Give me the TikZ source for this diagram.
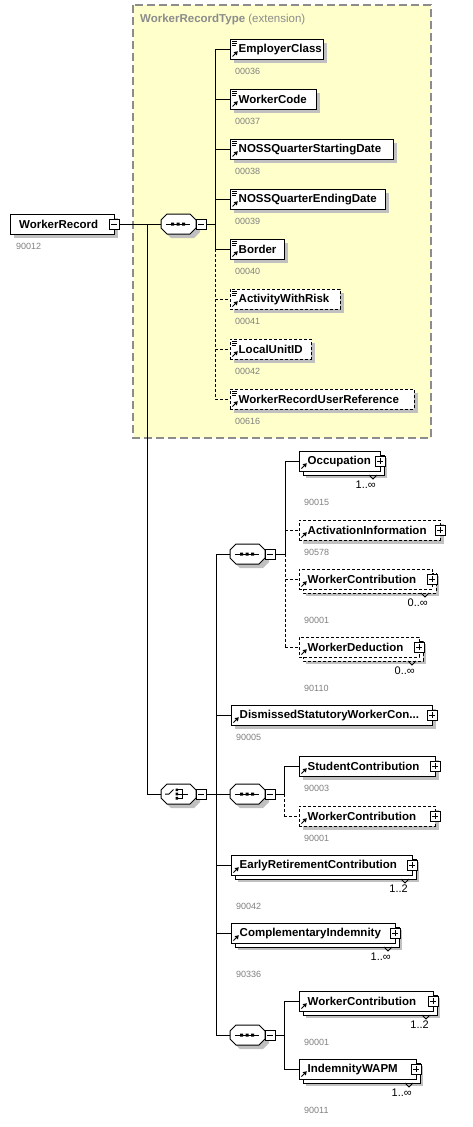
\documentclass[tikz,border=0pt]{standalone}
\usepackage{fontspec}
\setmainfont{Liberation Sans}
\definecolor{yel}{RGB}{255,255,204}
\definecolor{ygray}{RGB}{140,140,140}
\definecolor{shd}{RGB}{192,192,192}
\definecolor{codec}{RGB}{128,128,128}
\tikzset{
 ebox/.style={draw=black, fill=white, line width=1pt, inner sep=0pt, outer sep=0pt, minimum height=20pt, anchor=north west},
 opt/.style={dash pattern=on 3pt off 2pt},
 elab/.style={font=\bfseries\fontsize{11.5}{13}\selectfont, inner sep=0pt, anchor=west},
 codel/.style={font=\fontsize{9}{10}\selectfont, text=codec, inner sep=0pt, anchor=west},
 multl/.style={font=\fontsize{11}{12}\selectfont, inner sep=0pt, anchor=east},
 conn/.style={line width=1pt},
 oconn/.style={line width=1pt, dash pattern=on 3pt off 2pt},
 btn/.style={draw=black, fill=white, line width=0.8pt, minimum size=10pt, inner sep=0pt, outer sep=0pt},
 hub/.style={minimum width=35pt, minimum height=20pt, inner sep=0pt, outer sep=0pt, anchor=north west},
}
\newcommand{\xplusbtn}[3]{%
  \node[btn] (#1) at (#2,#3) {};
  \draw[line width=0.8pt] ([xshift=2pt]#1.west) -- ([xshift=-2pt]#1.east) ([yshift=-2pt]#1.north) -- ([yshift=2pt]#1.south);
}
\newcommand{\xminusbtn}[3]{%
  \node[btn] (#1) at (#2,#3) {};
  \draw[line width=0.8pt] ([xshift=2pt]#1.west) -- ([xshift=-2pt]#1.east);
}
\newcommand{\xrefarrow}[2]{%
  \draw[line width=1pt] (#1+2.5,#2+17.5) -- (#1+5.5,#2+14.5);
  \fill (#1+7.8,#2+12.2) -- (#1+3.6,#2+13.2) -- (#1+6.8,#2+16.4) -- cycle;
}
\newcommand{\xsimpleicon}[2]{%
  \draw[line width=0.8pt] (#1+2,#2+2.5) -- ++(5,0) (#1+2,#2+4.5) -- ++(5,0) (#1+2,#2+6.5) -- ++(4,0);
}
% single element: style, name, x, y, w, label, code
\newcommand{\xsel}[7]{%
  \fill[shd] (#3+4,#4+4) rectangle ++(#5,20);
  \node[ebox,#1,minimum width=#5pt] (#2) at (#3,#4) {};
  \node[elab] (#2l) at (#3+8.5,#4+10.5) {#6};
  \node[codel] (#2c) at (#3+5,#4+32) {#7};
  \xrefarrow{#3}{#4}
}
% multiple element: style, name, x, y, w, label, code, mult
\newcommand{\xmel}[8]{%
  \fill[shd] (#3+7,#4+7) rectangle ++(#5,20);
  \draw[line width=1pt, fill=white, #1] (#3+4,#4+4) rectangle ++(#5,20);
  \draw[line width=0.8pt] (#3+#5-11,#4+24) -- (#3+#5-7,#4+28) -- (#3+#5-3,#4+24);
  \node[ebox,#1,minimum width=#5pt] (#2) at (#3,#4) {};
  \node[elab] (#2l) at (#3+8.5,#4+10.5) {#6};
  \node[multl] (#2m) at (#3+#5-4,#4+34) {#8};
  \node[codel] (#2c) at (#3+5,#4+51) {#7};
  \xrefarrow{#3}{#4}
}
\newcommand{\xocta}[2]{(#1,#2+6) -- (#1+6,#2) -- (#1+29,#2) -- (#1+35,#2+6) -- (#1+35,#2+14) -- (#1+29,#2+20) -- (#1+6,#2+20) -- (#1,#2+14) -- cycle}
\newcommand{\xhubbase}[3]{%
  \fill[shd] \xocta{#2+4}{#3+4};
  \draw[line width=1pt, fill=white] \xocta{#2}{#3};
  \node[hub] (#1) at (#2,#3) {};
  \xminusbtn{#1b}{#2+40}{#3+10}
}
\newcommand{\xseqhub}[3]{%
  \xhubbase{#1}{#2}{#3}
  \draw[line width=1pt] (#2+5,#3+10) -- (#2+29,#3+10);
  \fill (#2+10,#3+8.5) rectangle ++(3,3) (#2+15.5,#3+8.5) rectangle ++(3,3) (#2+21,#3+8.5) rectangle ++(3,3);
}
\newcommand{\xchohub}[3]{%
  \xhubbase{#1}{#2}{#3}
  \draw[line width=1pt] (#2+4,#3+10) -- (#2+8,#3+10) -- (#2+12.5,#3+5.5);
  \fill (#2+14.5,#3+4.5) rectangle ++(2.6,2.6) (#2+14.5,#3+8.7) rectangle ++(2.6,2.6) (#2+14.5,#3+12.9) rectangle ++(2.6,2.6);
  \draw[line width=0.9pt] (#2+17,#3+5.8) -- (#2+21,#3+5.8) -- (#2+21,#3+14.2) -- (#2+17,#3+14.2) (#2+17,#3+10) -- (#2+27,#3+10);
}
\begin{document}
\begin{tikzpicture}[x=1pt,y=-1pt]
\useasboundingbox (0,0) rectangle (473,1127);
\fill[white] (0,0) rectangle (473,1127);
% extension background
\draw[fill=yel, draw=ygray, line width=1.2pt, dash pattern=on 8pt off 4pt] (133,5) rectangle (431,438);
\node[anchor=west, inner sep=0pt, text=ygray, font=\fontsize{11.5}{13}\selectfont] (title) at (140,20) {\textbf{WorkerRecordType} (extension)};
% root
\fill[shd] (14,218) rectangle ++(104,20);
\node[ebox,minimum width=104pt] (root) at (10,214) {};
\node[elab] (rootl) at (19,224.5) {WorkerRecord};
\node[codel] (rootc) at (16,246) {90012};
\xminusbtn{rootb}{114}{224}
% hubs
\xseqhub{s1}{161}{214}
\xchohub{ch}{161}{784}
\xseqhub{s2}{230}{544}
\xseqhub{s3}{230}{784}
\xseqhub{s4}{230}{1025}
% extension elements
\xsel{}{ec}{230}{39}{93}{EmployerClass}{00036}\xsimpleicon{230}{39}
\xsel{}{wc}{230}{89}{86}{WorkerCode}{00037}\xsimpleicon{230}{89}
\xsel{}{ns}{230}{139}{163}{NOSSQuarterStartingDate}{00038}\xsimpleicon{230}{139}
\xsel{}{ne}{230}{189}{155}{NOSSQuarterEndingDate}{00039}\xsimpleicon{230}{189}
\xsel{}{bo}{230}{239}{54}{Border}{00040}\xsimpleicon{230}{239}
\xsel{opt}{aw}{230}{289}{110}{ActivityWithRisk}{00041}\xsimpleicon{230}{289}
\xsel{opt}{lu}{230}{339}{81}{LocalUnitID}{00042}\xsimpleicon{230}{339}
\xsel{opt}{wr}{230}{389}{184}{WorkerRecordUserReference}{00616}\xsimpleicon{230}{389}
% lower elements
\xmel{}{oc}{299}{451}{81}{Occupation}{90015}{1..∞}\xplusbtn{ocb}{380}{461}
\xsel{opt}{ai}{299}{520}{141}{ActivationInformation}{90578}\xplusbtn{aib}{440}{530}
\xmel{opt}{wca}{299}{569}{133}{WorkerContribution}{90001}{0..∞}\xplusbtn{wcab}{432}{579}
\xmel{opt}{wd}{299}{637}{120}{WorkerDeduction}{90110}{0..∞}\xplusbtn{wdb}{419}{647}
\xsel{}{ds}{231}{705}{201}{DismissedStatutoryWorkerCon...}{90005}\xplusbtn{dsb}{432}{715}
\xsel{}{sc}{299}{756}{136}{StudentContribution}{90003}\xplusbtn{scb}{435}{766}
\xsel{opt}{wcb}{299}{806}{136}{WorkerContribution}{90001}\xplusbtn{wcbb}{435}{816}
\xmel{}{er}{231}{855}{181}{EarlyRetirementContribution}{90042}{1..2}\xplusbtn{erb}{412}{865}
\xmel{}{ci}{231}{923}{164}{ComplementaryIndemnity}{90336}{1..∞}\xplusbtn{cib}{395}{933}
\xmel{}{wcc}{299}{991}{134}{WorkerContribution}{90001}{1..2}\xplusbtn{wccb}{433}{1001}
\xmel{}{iw}{299}{1059}{117}{IndemnityWAPM}{90011}{1..∞}\xplusbtn{iwb}{416}{1069}
% connectors: root
\coordinate (mj) at (147,224);
\draw[conn] (rootb.east) -- (s1.west);
\draw[conn] (mj) |- (ch.west);
% seq 1
\coordinate (j1) at ([xshift=9pt]s1b.east);
\draw[conn] (s1b.east) -- (j1);
\draw[conn] (j1 |- ec.west) -- (j1 |- bo.west);
\draw[oconn] (j1 |- bo.west) -- (j1 |- wr.west);
\foreach \n in {ec,wc,ns,ne,bo} \draw[conn] (j1 |- \n.west) -- (\n.west);
\foreach \n in {aw,lu,wr} \draw[oconn] (j1 |- \n.west) -- (\n.west);
% choice
\coordinate (j2) at ([xshift=10pt]chb.east);
\draw[conn] (chb.east) -- (j2);
\draw[conn] (j2 |- s2.west) -- (j2 |- s4.west);
\foreach \n in {s2,ds,s3,er,ci,s4} \draw[conn] (j2 |- \n.west) -- (\n.west);
% seq 2
\coordinate (j3) at ([xshift=10pt]s2b.east);
\draw[conn] (s2b.east) -- (j3);
\draw[conn] (j3 |- oc.west) -- (j3);
\draw[oconn] (j3) -- (j3 |- wd.west);
\draw[conn] (j3 |- oc.west) -- (oc.west);
\foreach \n in {ai,wca,wd} \draw[oconn] (j3 |- \n.west) -- (\n.west);
% seq 3
\coordinate (j4) at ([xshift=9pt]s3b.east);
\draw[conn] (s3b.east) -- (j4);
\draw[conn] (j4 |- sc.west) -- (j4);
\draw[oconn] (j4) -- (j4 |- wcb.west);
\draw[conn] (j4 |- sc.west) -- (sc.west);
\draw[oconn] (j4 |- wcb.west) -- (wcb.west);
% seq 4
\coordinate (j5) at ([xshift=9pt]s4b.east);
\draw[conn] (s4b.east) -- (j5);
\draw[conn] (j5 |- wcc.west) -- (j5 |- iw.west);
\foreach \n in {wcc,iw} \draw[conn] (j5 |- \n.west) -- (\n.west);
\end{tikzpicture}
\end{document}
